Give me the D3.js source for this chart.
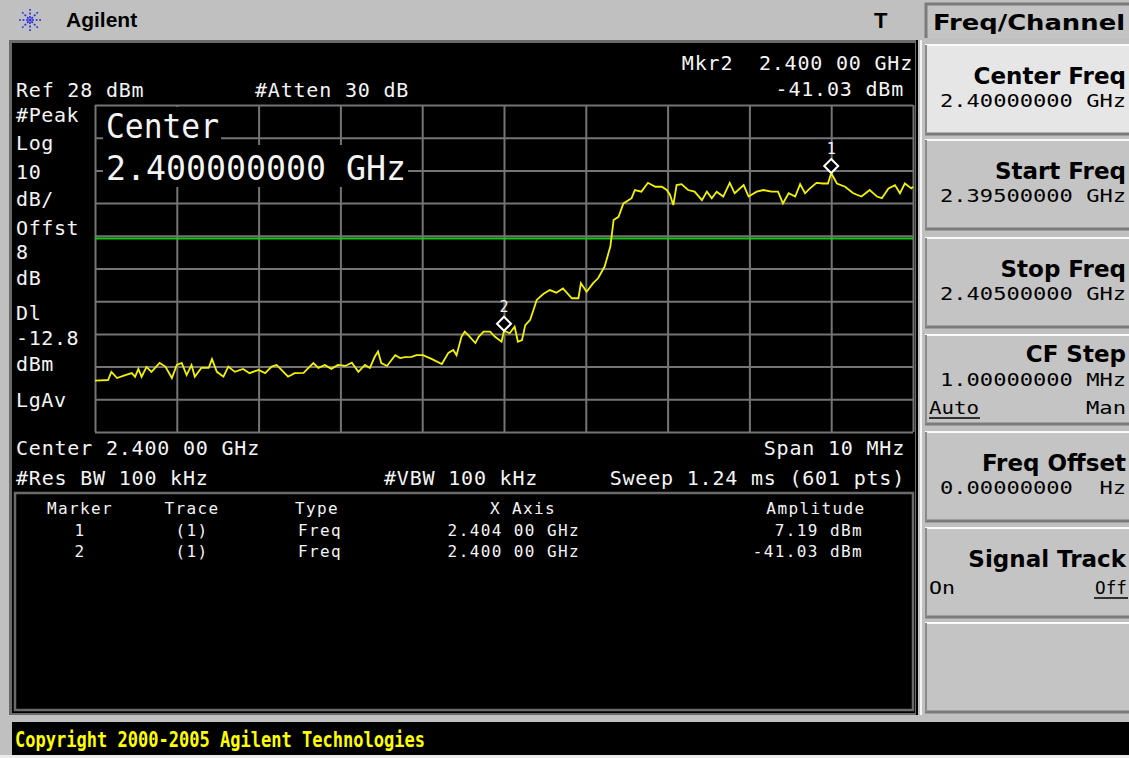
<!DOCTYPE html>
<html>
<head>
<meta charset="utf-8">
<script src="https://d3js.org/d3.v7.min.js"></script>
<style>
  body { margin: 0; background: #c0c0c0; }
  svg { display: block; }
  text { white-space: pre; }
</style>
</head>
<body>
<svg width="1129" height="758"></svg>
<script>
var width = 1129;
var height = 758;

// analyzer settings
var refLevel = 28;       // dBm, top of grid
var dbPerDiv = 10;
var spanMHz = 10;        // 2.395 .. 2.405 GHz
var displayLine = -12.8; // dBm

// trace: frequency offset from start (MHz), level (dBm)
var traceMHz = [0.00,0.16,0.20,0.27,0.37,0.45,0.49,0.53,0.57,0.63,0.69,0.79,0.86,0.94,1.00,1.06,1.12,1.18,1.22,1.30,
  1.39,1.43,1.49,1.57,1.63,1.71,1.81,1.89,2.00,2.08,2.16,2.22,2.28,2.36,2.44,2.55,2.61,2.67,2.73,2.81,
  2.89,2.97,3.06,3.14,3.22,3.30,3.36,3.42,3.46,3.50,3.57,3.67,3.73,3.79,3.87,3.93,4.01,4.12,4.24,4.32,
  4.38,4.42,4.48,4.52,4.56,4.65,4.69,4.75,4.83,4.89,4.97,5.00,5.07,5.13,5.17,5.22,5.26,5.32,5.36,5.40,
  5.48,5.56,5.64,5.72,5.83,5.91,5.94,6.01,6.09,6.15,6.23,6.30,6.34,6.40,6.46,6.56,6.60,6.68,6.76,6.85,
  6.93,6.99,7.03,7.07,7.11,7.17,7.25,7.33,7.42,7.48,7.54,7.60,7.68,7.76,7.82,7.93,7.99,8.09,8.17,8.27,
  8.35,8.41,8.48,8.56,8.62,8.68,8.74,8.82,8.90,8.96,9.00,9.07,9.17,9.27,9.37,9.47,9.56,9.62,9.70,9.78,
  9.84,9.90,9.98,10.00];
var traceDbm = [-56.3,-56.1,-53.6,-55.5,-54.6,-54.0,-55.1,-52.7,-55.1,-52.1,-53.6,-50.9,-52.0,-55.5,-51.5,-50.9,-54.6,-51.5,-55.1,-52.4,
  -52.4,-49.7,-53.6,-55.1,-52.0,-53.6,-52.7,-54.0,-53.0,-54.0,-52.0,-51.5,-53.0,-55.1,-54.0,-53.9,-52.4,-50.9,-52.4,-51.5,
  -52.7,-51.5,-51.8,-50.8,-53.6,-51.5,-52.4,-49.0,-47.4,-50.9,-51.8,-48.5,-49.4,-49.1,-49.0,-48.5,-48.5,-49.7,-51.2,-47.8,
  -46.9,-48.5,-42.9,-41.3,-42.3,-44.8,-42.9,-41.3,-41.3,-42.9,-44.4,-41.03,-41.8,-39.8,-44.4,-43.9,-39.3,-37.7,-34.7,-31.6,
  -29.8,-28.6,-29.4,-28.1,-31.1,-31.1,-26.5,-29.1,-26.5,-25.0,-21.4,-15.3,-7.2,-6.2,-2.1,-0.5,2.0,1.5,4.2,3.0,
  3.0,2.0,0.5,-2.6,3.5,3.8,2.0,1.5,-1.1,1.5,-0.5,1.5,0.0,4.2,1.0,3.5,0.0,1.5,2.0,1.5,
  1.5,-2.1,1.0,0.0,3.8,1.0,2.5,4.2,4.0,4.0,7.19,4.0,3.0,1.0,0.0,2.0,0.0,-0.5,2.5,3.5,
  1.0,4.0,2.5,3.0];

var markerIds = ["1", "2"];
var markerMHz = [9.00, 5.00];
var markerDbm = [7.19, -41.03];
var markerFreqText = ["2.404 00 GHz", "2.400 00 GHz"];

var leftLabels = ["#Peak", "Log", "10", "dB/", "Offst", "8", "dB", "Dl", "-12.8", "dBm", "LgAv"];
var leftLabelY = [122, 150, 179, 206, 235, 259, 285, 320, 345, 371, 407];

var keyTitles = ["Center Freq", "Start Freq", "Stop Freq", "CF Step", "Freq Offset", "Signal Track", ""];
var keyValues = ["2.40000000 GHz", "2.39500000 GHz", "2.40500000 GHz", "1.00000000 MHz", "0.00000000  Hz", "", ""];

var mono = "'DejaVu Sans Mono', 'Liberation Mono', monospace";
var sans = "'DejaVu Sans', Verdana, sans-serif";

var svg = d3.select("svg")
    .attr("width", width)
    .attr("height", height);

function txt(g, x, y, s, o) {
  o = o || {};
  var t = g.append("text")
      .attr("x", x).attr("y", y)
      .attr("fill", o.fill || "#f4f4f4")
      .attr("font-family", o.family || mono)
      .attr("font-size", o.size || 20)
      .attr("text-anchor", o.anchor || "start")
      .text(s);
  if (o.weight) t.attr("font-weight", o.weight);
  if (o.ls) t.attr("letter-spacing", o.ls);
  if (o.len) t.attr("textLength", o.len).attr("lengthAdjust", "spacingAndGlyphs");
  return t;
}

// page + top bar
svg.append("rect").attr("width", width).attr("height", height).attr("fill", "#c0c0c0");
svg.append("rect").attr("y", 755).attr("width", width).attr("height", 3).attr("fill", "#ececec");

// agilent spark
var logo = svg.append("g").attr("transform", "translate(30,20)");
d3.range(8).forEach(function(i) {
  var a = i * Math.PI / 4;
  logo.append("line")
      .attr("x1", 2 * Math.cos(a)).attr("y1", 2 * Math.sin(a))
      .attr("x2", 11 * Math.cos(a)).attr("y2", 11 * Math.sin(a))
      .attr("stroke", "#2a2ae8").attr("stroke-width", 1.6)
      .attr("stroke-dasharray", "2,1.6");
});
logo.append("circle").attr("r", 1.6).attr("fill", "#2a2ae8");
txt(svg, 66, 27, "Agilent", {fill: "#000", family: "'Liberation Sans', Arial, sans-serif", size: 21, weight: "bold"});
txt(svg, 874, 28, "T", {fill: "#000", family: "'Liberation Sans', Arial, sans-serif", size: 22, weight: "bold"});

// display area
svg.append("rect").attr("x", 9).attr("y", 40).attr("width", 908).attr("height", 675).attr("fill", "#6a6a6a");
svg.append("rect").attr("x", 12).attr("y", 43).attr("width", 903).attr("height", 670).attr("fill", "#000");
svg.append("line").attr("x1", 917).attr("x2", 917).attr("y1", 40).attr("y2", 715).attr("stroke", "#000").attr("stroke-width", 2);
svg.append("line").attr("x1", 921).attr("x2", 921).attr("y1", 40).attr("y2", 715).attr("stroke", "#f4f4f4").attr("stroke-width", 2);

var x = d3.scaleLinear().domain([0, spanMHz]).range([95, 913]);
var y = d3.scaleLinear().domain([refLevel - 10 * dbPerDiv, refLevel]).range([432, 105]);

var plot = svg.append("g");
var gridColor = "#747474";

plot.append("g")
    .attr("transform", "translate(0,432)")
    .call(d3.axisBottom(x).tickValues(x.ticks(10)).tickSize(-327).tickFormat(""))
    .call(function(g) {
      g.select(".domain").remove();
      g.selectAll("line").attr("stroke", gridColor).attr("stroke-width", 2);
    });
plot.append("g")
    .attr("transform", "translate(95,0)")
    .call(d3.axisLeft(y).tickValues(d3.range(refLevel - 10 * dbPerDiv, refLevel + 1, dbPerDiv)).tickSize(-818).tickFormat(""))
    .call(function(g) {
      g.select(".domain").remove();
      g.selectAll("line").attr("stroke", gridColor).attr("stroke-width", 2);
    });

// active-function readout covers part of the grid
plot.append("rect").attr("x", 103).attr("y", 107).attr("width", 118).attr("height", 38).attr("fill", "#000");
plot.append("rect").attr("x", 103).attr("y", 145).attr("width", 305).attr("height", 42).attr("fill", "#000");
txt(plot, 106, 138, "Center", {size: 33, len: 113});
txt(plot, 106, 180, "2.400000000 GHz", {size: 33, len: 300});

// display line
plot.append("line")
    .attr("x1", x(0)).attr("x2", x(spanMHz))
    .attr("y1", y(displayLine)).attr("y2", y(displayLine))
    .attr("stroke", "#14c814").attr("stroke-width", 2);

// trace
var pts = traceMHz.map(function(f, i) { return [f, traceDbm[i]]; });
plot.append("path")
    .datum(pts)
    .attr("fill", "none")
    .attr("stroke", "#f2f200")
    .attr("stroke-width", 1.8)
    .attr("stroke-linejoin", "miter")
    .attr("d", d3.line()
        .x(function(d) { return x(d[0]); })
        .y(function(d) { return y(d[1]); }));

// markers
markerIds.forEach(function(id, i) {
  var mx = x(markerMHz[i]), my = y(markerDbm[i]) - 7;
  plot.append("path")
      .attr("d", "M" + mx + "," + (my - 7) + "L" + (mx + 7) + "," + my + "L" + mx + "," + (my + 7) + "L" + (mx - 7) + "," + my + "Z")
      .attr("fill", "#000").attr("stroke", "#fff").attr("stroke-width", 2);
  txt(plot, mx, my - 12, id, {size: 15, anchor: "middle"});
});

// annotations around the grid
txt(svg, 913, 70, "Mkr2  2.400 00 GHz", {anchor: "end", ls: 0.8});
txt(svg, 904, 96, "-41.03 dBm", {anchor: "end", ls: 0.8});
txt(svg, 16, 97, "Ref 28 dBm", {ls: 0.8});
txt(svg, 255, 97, "#Atten 30 dB", {ls: 0.8});
leftLabels.forEach(function(s, i) { txt(svg, 16, leftLabelY[i], s, {ls: 0.6}); });
txt(svg, 16, 455, "Center 2.400 00 GHz", {ls: 0.8});
txt(svg, 905, 455, "Span 10 MHz", {anchor: "end", ls: 0.8});
txt(svg, 16, 485, "#Res BW 100 kHz", {ls: 0.8});
txt(svg, 384, 485, "#VBW 100 kHz", {ls: 0.8});
txt(svg, 905, 485, "Sweep 1.24 ms (601 pts)", {anchor: "end", ls: 0.8});

// marker table
svg.append("rect").attr("x", 15).attr("y", 493).attr("width", 898).attr("height", 217)
    .attr("fill", "none").attr("stroke", "#6a6a6a").attr("stroke-width", 2.5);
var tbl = svg.append("g");
var ts = {size: 16, ls: 1.4, anchor: "middle"};
txt(tbl, 80, 514, "Marker", ts);
txt(tbl, 192, 514, "Trace", ts);
txt(tbl, 317, 514, "Type", ts);
txt(tbl, 523, 514, "X Axis", ts);
txt(tbl, 816, 514, "Amplitude", ts);
markerIds.forEach(function(id, i) {
  var by = 536 + i * 21;
  txt(tbl, 80, by, id, ts);
  txt(tbl, 192, by, "(1)", ts);
  txt(tbl, 320, by, "Freq", ts);
  txt(tbl, 580, by, markerFreqText[i], {size: 16, ls: 1.4, anchor: "end"});
  txt(tbl, 863, by, markerDbm[i].toFixed(2) + " dBm", {size: 16, ls: 1.4, anchor: "end"});
});

// status line
svg.append("rect").attr("x", 12).attr("y", 722).attr("width", width - 12).attr("height", 33).attr("fill", "#000");
txt(svg, 15, 747, "Copyright 2000-2005 Agilent Technologies", {fill: "#ffff00", size: 21, weight: "bold", len: 410});

// softkey panel
var keys = svg.append("g");
keys.append("rect").attr("x", 925).attr("y", 3).attr("width", 204).attr("height", 35).attr("fill", "#c4c4c4");
keys.append("path").attr("d", "M926,38V4H1129").attr("fill", "none").attr("stroke", "#7a7a7a").attr("stroke-width", 3);
txt(keys, 1125, 30, "Freq/Channel", {fill: "#000", family: sans, size: 22, weight: "bold", anchor: "end", len: 192});

var keyTop = [45, 140, 238, 335, 432, 528, 623];
keyTitles.forEach(function(title, i) {
  var t = keyTop[i];
  var k = keys.append("g");
  k.append("rect").attr("x", 925).attr("y", t).attr("width", 204).attr("height", 89)
      .attr("fill", i === 0 ? "#e6e6e6" : "#c4c4c4");
  k.append("line").attr("x1", 925).attr("x2", 1129).attr("y1", t).attr("y2", t).attr("stroke", "#fafafa").attr("stroke-width", 2);
  k.append("line").attr("x1", 925).attr("x2", 1129).attr("y1", t + 89).attr("y2", t + 89).attr("stroke", "#7a7a7a").attr("stroke-width", 3);
  k.append("line").attr("x1", 926).attr("x2", 926).attr("y1", t).attr("y2", t + 89).attr("stroke", "#8a8a8a").attr("stroke-width", 2);
  if (!title) return;
  var three = (title === "CF Step");
  txt(k, 1126, t + (three ? 27 : 39), title, {fill: "#000", family: sans, size: 23, weight: "bold", anchor: "end"});
  if (keyValues[i]) {
    txt(k, 1126, t + (three ? 51 : 62), keyValues[i], {fill: "#000", size: 18, anchor: "end", len: 186});
  }
});
// toggle captions
txt(keys, 929, 414, "Auto", {fill: "#000", size: 18, len: 50});
keys.append("line").attr("x1", 929).attr("x2", 980).attr("y1", 418).attr("y2", 418).attr("stroke", "#000").attr("stroke-width", 1.5);
txt(keys, 1126, 414, "Man", {fill: "#000", size: 18, anchor: "end", len: 40});
txt(keys, 929, 594, "On", {fill: "#000", size: 18, len: 26});
txt(keys, 1127, 594, "Off", {fill: "#000", size: 18, anchor: "end", len: 32});
keys.append("line").attr("x1", 1094).attr("x2", 1128).attr("y1", 598).attr("y2", 598).attr("stroke", "#000").attr("stroke-width", 1.5);
</script>
</body>
</html>
